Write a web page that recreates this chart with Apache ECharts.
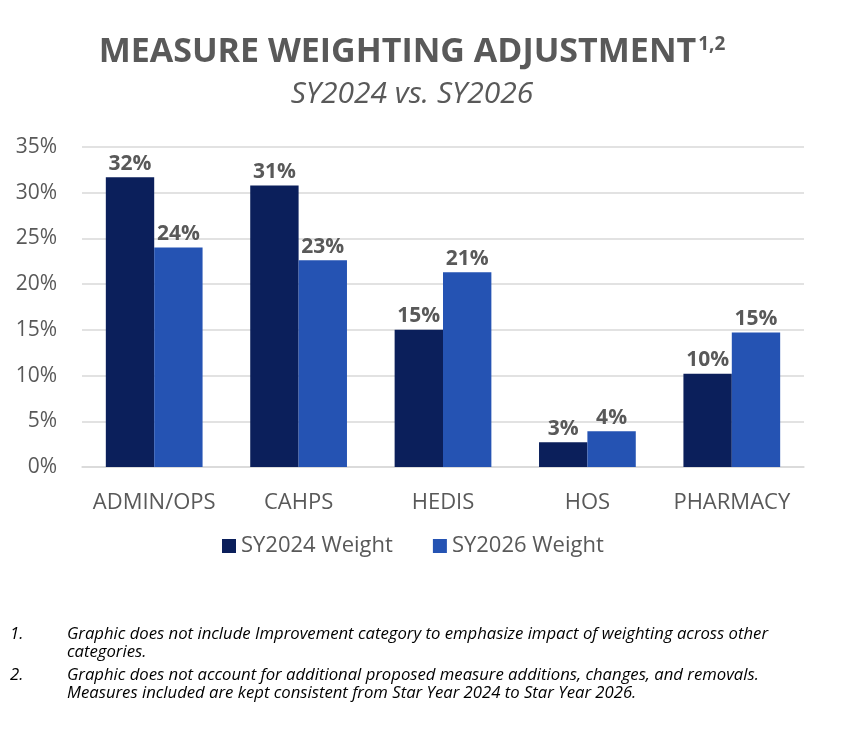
<!DOCTYPE html>
<html>
<head>
<meta charset="utf-8">
<script src="https://cdn.jsdelivr.net/npm/echarts@6/dist/echarts.min.js"></script>
<style>
html,body{margin:0;padding:0;background:#fff;}
#chart{width:862px;height:750px;}
</style>
</head>
<body>
<div id="chart"></div>
<script>
const categories = ['ADMIN/OPS', 'CAHPS', 'HEDIS', 'HOS', 'PHARMACY'];
const seriesNames = ['SY2024 Weight', 'SY2026 Weight'];
const sy2024 = [31.7, 30.8, 15.0, 2.7, 10.2];
const sy2026 = [24.0, 22.6, 21.3, 3.9, 14.7];
const yTicks = [0, 5, 10, 15, 20, 25, 30, 35];
const titleText = 'MEASURE WEIGHTING ADJUSTMENT';
const titleSup = '1,2';
const subtitleText = 'SY2024 vs. SY2026';
const footnotes = [
  ['1.', 'Graphic does not include Improvement category to emphasize impact of weighting across other', 'categories.'],
  ['2.', 'Graphic does not account for additional proposed measure additions, changes, and removals.', 'Measures included are kept consistent from Star Year 2024 to Star Year 2026.']
];

const FONT = '"Open Sans", "Noto Sans", sans-serif';
const GRAY = '#595959';
const chart = echarts.init(document.getElementById('chart'), null, {renderer: 'canvas'});

const footGraphics = [];
let fy = 635;
footnotes.forEach(function (fn) {
  footGraphics.push({type: 'text', left: 10, top: fy - 10, style: {text: fn[0], font: 'italic 16.7px ' + FONT, fill: '#000', lineHeight: 18}});
  footGraphics.push({type: 'text', left: 67, top: fy - 10, style: {text: fn[1] + '\n' + fn[2], font: 'italic 16.7px ' + FONT, fill: '#000', lineHeight: 18}});
  fy += 41;
});

const labelCfg = {
  show: true, position: 'top', distance: 3,
  fontFamily: FONT, fontWeight: 'bold', fontSize: 21, color: GRAY,
  formatter: function (p) { return Math.round(p.value) + '%'; }
};

chart.setOption({
  animation: false,
  textStyle: {fontFamily: FONT},
  graphic: [
    {type: 'text', x: 412, y: 35, style: {
      text: '{a|' + titleText + '}{b|' + titleSup + '}', align: 'center',
      rich: {
        a: {fontSize: 34, fontWeight: 'bold', fontFamily: FONT, fill: GRAY},
        b: {fontSize: 19, fontWeight: 'bold', fontFamily: FONT, fill: GRAY, verticalAlign: 'top', padding: [0, 0, 14, 2]}
      }
    }},
    {type: 'text', x: 412, y: 79, style: {text: subtitleText, align: 'center', font: 'italic 30px ' + FONT, fill: GRAY}}
  ].concat(footGraphics),
  legend: {
    data: seriesNames, top: 530, left: 217,
    itemWidth: 14, itemHeight: 14, itemGap: 40, icon: 'rect',
    textStyle: {fontSize: 22, color: GRAY, fontFamily: FONT}
  },
  grid: {left: 82, right: 58, top: 147, bottom: 283, containLabel: false},
  xAxis: {
    type: 'category', data: categories,
    axisTick: {show: false},
    axisLine: {lineStyle: {color: '#D9D9D9', width: 1.5}},
    axisLabel: {fontSize: 22, color: GRAY, margin: 25, interval: 0, fontFamily: FONT}
  },
  yAxis: {
    type: 'value', min: yTicks[0], max: yTicks[yTicks.length - 1], interval: 5,
    axisLine: {show: false}, axisTick: {show: false},
    splitLine: {lineStyle: {color: '#D9D9D9', width: 1.5}},
    axisLabel: {fontSize: 21, color: GRAY, margin: 25, fontFamily: FONT, formatter: '{value}%'}
  },
  series: [
    {name: seriesNames[0], type: 'bar', data: sy2024, barGap: '0%', barCategoryGap: '33%',
      itemStyle: {color: '#0B1F5B'}, label: labelCfg},
    {name: seriesNames[1], type: 'bar', data: sy2026, barGap: '0%', barCategoryGap: '33%',
      itemStyle: {color: '#2553B3'}, label: labelCfg}
  ]
});
</script>
</body>
</html>
